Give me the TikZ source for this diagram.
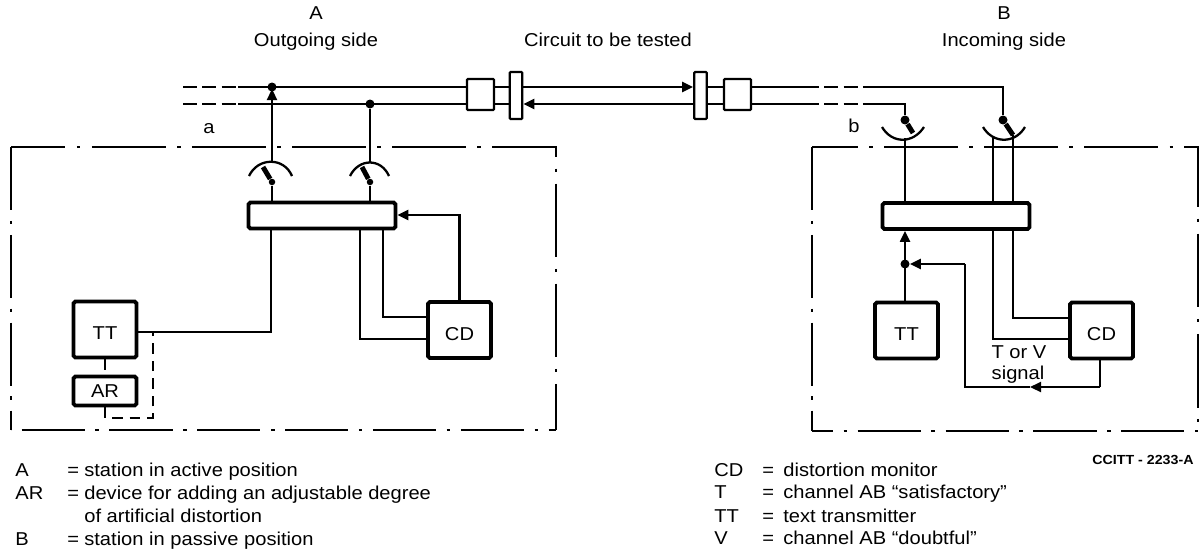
\documentclass[tikz,border=0pt]{standalone}
\usepackage{fontspec}
\setmainfont[FakeStretch=1.08]{Liberation Sans}
\usetikzlibrary{arrows.meta}

\begin{document}
\begin{tikzpicture}[
  x=0.02cm, y=-0.02cm,
  wire/.style={draw, line width=1.3pt},
  dashwire/.style={wire, dash pattern=on 8pt off 3pt},
  arrowwire/.style={wire, -{Triangle[length=2.2mm,width=2mm]}},
  auxwire/.style={draw, line width=1pt, dash pattern=on 6pt off 4pt},
  framed/.style={draw, line width=0.9pt, dash pattern=on 42pt off 6.5pt on 2pt off 6.5pt},
  framedlow/.style={draw, line width=0.9pt, dash pattern=on 36pt off 6pt on 2pt off 6pt},
  mainbox/.style={draw, line width=2.2pt, rounded corners=1pt, fill=white, minimum width=2.94cm, minimum height=0.52cm, inner sep=0pt},
  unitbox/.style={draw, line width=2.2pt, rounded corners=1pt, fill=white, minimum width=1.26cm, minimum height=1.12cm, inner sep=0pt, text height=11.4pt, text depth=0pt},
  padbox/.style={draw, line width=1.3pt, rounded corners=0.5pt, fill=white, minimum width=0.54cm, minimum height=0.62cm, inner sep=0pt},
  jackbox/.style={draw, line width=1.3pt, rounded corners=0.5pt, fill=white, minimum width=0.25cm, minimum height=0.94cm, inner sep=0pt},
  joint/.style={circle, fill=black, minimum size=1.8mm, inner sep=0pt},
  needle/.style={draw, line width=2.8pt},
  scalearc/.style={draw, line width=1.3pt},
  lbl/.style={inner sep=0pt, anchor=base},
  legend/.style={inner sep=0pt, anchor=base west},
  font=\fontsize{10.6}{12}\selectfont
]
  \useasboundingbox (0,0) rectangle (1204,548);

  % frames of the two stations
  \draw[framed, dash phase=11pt] (11,147) -- (556,147) -- (556,430);
  \draw[framedlow, dash phase=44pt] (11,430) -- (556,430);
  \draw[framedlow] (11,147) -- (11,430);
  \draw[framed, dash phase=16pt] (812,147) -- (1198,147) -- (1198,431);
  \draw[framedlow, dash phase=24pt] (812,431) -- (1198,431);
  \draw[framedlow] (812,147) -- (812,431);

  % blocks
  \node[mainbox] (mainA) at (322,215.5) {};
  \node[mainbox] (mainB) at (956,216) {};
  \node[unitbox] (ttA) at (105,329.5) {TT};
  \node[unitbox, minimum height=0.58cm, text height=7.6pt] (arA) at (105,391) {AR};
  \node[unitbox] (cdA) at (459.5,330) {CD};
  \node[unitbox] (ttB) at (906.5,330.5) {TT};
  \node[unitbox] (cdB) at (1101.5,330.5) {CD};
  \node[padbox] (padA) at (480.5,94.5) {};
  \node[jackbox] (jackA) at (516,95.5) {};
  \node[jackbox] (jackB) at (700.5,95.5) {};
  \node[padbox] (padB) at (737.5,94.5) {};

  % circuit under test
  \coordinate (upEnd) at (183,87);
  \coordinate (upDash) at (238,87);
  \coordinate (loEnd) at (183,104);
  \coordinate (loDash) at (238,104);
  \coordinate (upDashB) at (805,87);
  \coordinate (upSolidB) at (873,87);
  \coordinate (loDashB) at (805,104);
  \coordinate (loSolidB) at (873,104);
  \coordinate (upCorner) at (1003,87);
  \coordinate (loCorner) at (905,104);
  \node[joint] (tapUp) at (272,87) {};
  \node[joint] (tapLo) at (370,104) {};

  \draw[dashwire] (upEnd) -- (upDash);
  \draw[dashwire] (loEnd) -- (loDash);
  \draw[wire] (upDash) -- (padA.west |- upDash);
  \draw[wire] (loDash) -- (padA.west |- loDash);
  \foreach \y in {87,104} {
    \draw[wire] (495,\y) -- (509,\y);
    \draw[wire] (708,\y) -- (723,\y);
  }
  \draw[arrowwire] (jackA.east |- upEnd) -- (jackB.west |- upEnd);
  \draw[arrowwire] (jackB.west |- loEnd) -- (jackA.east |- loEnd);
  \draw[wire] (padB.east |- upEnd) -- (upDashB);
  \draw[wire] (padB.east |- loEnd) -- (loDashB);
  \draw[dashwire] (upDashB) -- (upSolidB);
  \draw[dashwire] (loDashB) -- (loSolidB);

  % keys on side A
  \node[joint, minimum size=1.3mm] (keyA1) at (272,182) {};
  \node[joint, minimum size=1.3mm] (keyA2) at (370,182) {};
  \coordinate (tipA1) at (263,167);
  \coordinate (tipA2) at (362,167);
  \draw[scalearc] (249,176) .. controls (258,157) and (284,157) .. (292,176);
  \draw[scalearc] (350,176) .. controls (359,158) and (381,158) .. (389,176);
  \draw[needle] (tipA1) -- (keyA1);
  \draw[needle] (tipA2) -- (keyA2);
  \draw[arrowwire] (272,162) -- (272,89);
  \draw[wire] (tapLo) -- (370,162);
  \draw[wire] (keyA1) -- (mainA.north -| keyA1);
  \draw[wire] (keyA2) -- (mainA.north -| keyA2);

  % keys on side B
  \node[joint, minimum size=1.8mm] (keyB1) at (905,120) {};
  \node[joint, minimum size=1.8mm] (keyB2) at (1003,120) {};
  \coordinate (tipB1) at (913,133);
  \coordinate (tipB2) at (1013,135);
  \draw[scalearc] (882,127) .. controls (892,144) and (913,144) .. (924,127);
  \draw[scalearc] (983,127) .. controls (993,144) and (1015,144) .. (1025,127);
  \draw[needle] (keyB1) -- (tipB1);
  \draw[needle] (keyB2) -- (tipB2);
  \draw[wire] (loSolidB) -- (loCorner) -- (keyB1);
  \draw[wire] (upSolidB) -- (upCorner) -- (keyB2);
  \draw[wire] (905,138) -- (mainB.north -| keyB1);
  \draw[wire] (993,137) -- (993,201);
  \draw[wire] (tipB2) -- (1013,201);

  % side A wiring
  \coordinate (ttTurn) at (271,332);
  \coordinate (auxTurn) at (153,418);
  \coordinate (auxStart) at (105,418);
  \draw[wire] (mainA.south -| ttTurn) -- (ttTurn) -- (ttA.east |- ttTurn);
  \draw[wire] (mainA.south -| 360,0) -- (360,339) -- (cdA.west |- 0,339);
  \draw[wire] (mainA.south -| 383,0) -- (383,317) -- (cdA.west |- 0,317);
  \draw[arrowwire] (cdA.north) -- (459.5,215) -- (mainA.east |- 0,215);
  \draw[auxwire] (ttA.south) -- (arA.north);
  \draw[auxwire] (arA.south) -- (auxStart) -- (auxTurn) -- (153,332);

  % side B wiring
  \node[joint] (tapB) at (905,264) {};
  \coordinate (sigUp) at (965,264);
  \coordinate (sigLow) at (965,387);
  \coordinate (sigMid) at (1030,387);
  \coordinate (sigCD) at (1100,387);
  \draw[arrowwire] (ttB.north -| tapB) -- (mainB.south -| tapB);
  \draw[arrowwire] (sigUp) -- (tapB);
  \draw[wire] (sigUp) -- (sigLow) -- (sigMid);
  \draw[arrowwire] (sigCD) -- (sigMid);
  \draw[wire] (cdB.south -| sigCD) -- (sigCD);
  \draw[wire] (mainB.south -| 993,0) -- (993,339) -- (cdB.west |- 0,339);
  \draw[wire] (mainB.south -| 1013,0) -- (1013,318) -- (cdB.west |- 0,318);

  % labels
  \node[lbl] (sideA) at (316,19) {A};
  \node[lbl] (outA) at (316,46) {Outgoing side};
  \node[lbl] (circuit) at (608,46) {Circuit to be tested};
  \node[lbl] (sideB) at (1004,19) {B};
  \node[lbl] (inB) at (1004,46) {Incoming side};
  \node[lbl] (a) at (209,133) {a};
  \node[lbl] (b) at (854,132) {b};
  \node[lbl] (sigOne) at (1019,358) {T or V};
  \node[lbl] (sigTwo) at (1018,379) {signal};
  \node[legend, font=\fontsize{7.5}{9}\selectfont\bfseries] (ref) at (1092,464) {CCITT - 2233-A};

  % legend
  \foreach \i/\yy/\kk/\tt in {1/476/A/station in active position,
                              2/499/AR/device for adding an adjustable degree,
                              4/545/B/station in passive position} {
    \node[legend] (keyL\i) at (15,\yy) {\kk};
    \node[legend] (eqL\i) at (67,\yy) {=};
    \node[legend] (txtL\i) at (84,\yy) {\tt};
  }
  \node[legend] (txtL3) at (84,522) {of artificial distortion};
  \foreach \i/\yy/\kk/\tt in {1/476/CD/distortion monitor,
                              2/498/T/channel AB “satisfactory”,
                              3/522/TT/text transmitter,
                              4/544/V/channel AB “doubtful”} {
    \node[legend] (keyR\i) at (714,\yy) {\kk};
    \node[legend] (eqR\i) at (762,\yy) {=};
    \node[legend] (txtR\i) at (783,\yy) {\tt};
  }

\end{tikzpicture}
\end{document}
